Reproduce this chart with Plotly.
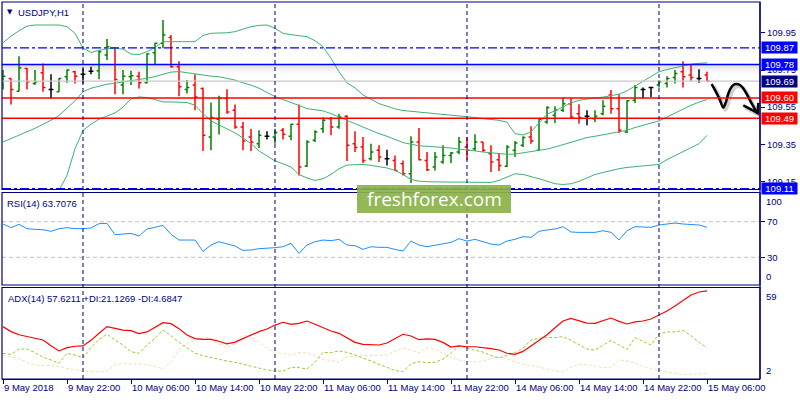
import plotly.graph_objects as go

# ---------------- data ----------------
bar_index = list(range(89))

opens = [109.669,109.705,109.636,109.759,109.678,109.735,109.645,109.633,109.714,109.741,
         109.728,109.744,109.746,109.831,109.867,109.669,109.714,109.717,109.681,109.843,
         109.894,109.926,109.768,109.645,109.669,109.651,109.389,109.485,109.596,109.533,
         109.443,109.389,109.353,109.393,109.389,109.425,109.393,109.458,109.233,109.371,
         109.434,109.488,109.443,109.501,109.353,109.335,109.272,109.317,109.272,109.263,
         109.245,109.191,109.362,109.263,109.227,109.254,109.290,109.308,109.335,109.326,
         109.362,109.299,109.267,109.231,109.317,109.344,109.389,109.317,109.470,109.506,
         109.533,109.569,109.515,109.501,109.488,109.515,109.615,109.542,109.416,109.587,
         109.645,109.656,109.669,109.678,109.710,109.741,109.723,109.705,109.723]
highs = [109.750,109.705,109.825,109.762,109.750,109.786,109.728,109.706,109.753,109.746,
         109.759,109.768,109.858,109.917,109.870,109.750,109.746,109.741,109.840,109.897,
         110.020,109.939,109.798,109.696,109.728,109.656,109.575,109.611,109.647,109.564,
         109.470,109.434,109.425,109.420,109.434,109.438,109.461,109.564,109.371,109.425,
         109.494,109.497,109.515,109.506,109.420,109.389,109.353,109.344,109.321,109.290,
         109.263,109.393,109.438,109.308,109.308,109.344,109.308,109.389,109.389,109.404,
         109.362,109.344,109.299,109.344,109.368,109.393,109.447,109.488,109.555,109.555,
         109.600,109.600,109.566,109.533,109.533,109.587,109.642,109.620,109.587,109.669,
         109.656,109.656,109.696,109.717,109.750,109.798,109.780,109.755,109.741]
lows = [109.645,109.564,109.636,109.645,109.669,109.633,109.596,109.633,109.681,109.678,
        109.678,109.728,109.701,109.804,109.620,109.620,109.669,109.651,109.678,109.777,
        109.867,109.762,109.609,109.624,109.533,109.314,109.317,109.402,109.515,109.434,
        109.317,109.314,109.330,109.375,109.353,109.375,109.371,109.182,109.227,109.362,
        109.411,109.398,109.434,109.260,109.308,109.249,109.263,109.254,109.236,109.204,
        109.182,109.141,109.263,109.206,109.209,109.245,109.249,109.296,109.267,109.314,
        109.308,109.200,109.206,109.227,109.281,109.335,109.353,109.314,109.461,109.465,
        109.524,109.488,109.461,109.452,109.470,109.506,109.515,109.411,109.411,109.573,
        109.596,109.605,109.656,109.656,109.678,109.656,109.692,109.681,109.690]
closes = [109.717,109.645,109.762,109.687,109.687,109.656,109.645,109.705,109.750,109.717,
          109.728,109.744,109.849,109.876,109.699,109.717,109.719,109.681,109.836,109.894,
          109.939,109.768,109.660,109.656,109.605,109.398,109.494,109.596,109.524,109.443,
          109.368,109.362,109.398,109.393,109.413,109.404,109.458,109.227,109.362,109.416,
          109.479,109.443,109.497,109.344,109.332,109.263,109.308,109.281,109.272,109.209,
          109.191,109.362,109.267,109.213,109.281,109.290,109.303,109.362,109.317,109.362,
          109.317,109.254,109.236,109.335,109.357,109.386,109.368,109.485,109.548,109.533,
          109.569,109.497,109.494,109.501,109.501,109.555,109.542,109.425,109.584,109.656,
          109.645,109.656,109.687,109.705,109.732,109.714,109.710,109.705,109.690]

bb_upper = [109.897,109.933,109.962,109.987,109.993,109.993,109.993,109.993,109.984,109.948,
            109.869,109.845,109.856,109.865,109.867,109.863,109.836,109.834,109.849,109.872,
            109.903,109.903,109.903,109.899,109.903,109.937,109.948,109.950,109.951,109.957,
            109.969,109.984,109.991,109.993,109.975,109.948,109.941,109.935,109.930,109.908,
            109.876,109.813,109.741,109.681,109.654,109.616,109.591,109.569,109.555,109.541,
            109.532,109.528,109.524,109.519,109.515,109.512,109.508,109.505,109.497,109.494,
            109.488,109.483,109.479,109.469,109.407,109.400,109.416,109.465,109.512,109.530,
            109.551,109.573,109.587,109.595,109.600,109.604,109.611,109.620,109.638,109.663,
            109.690,109.717,109.741,109.753,109.762,109.773,109.782,109.786,109.789]
bb_middle = [109.362,109.380,109.397,109.415,109.436,109.458,109.479,109.505,109.542,109.584,
             109.633,109.652,109.663,109.674,109.679,109.685,109.690,109.697,109.706,109.715,
             109.728,109.739,109.742,109.735,109.728,109.721,109.717,109.714,109.705,109.696,
             109.681,109.669,109.652,109.629,109.607,109.591,109.577,109.559,109.542,109.537,
             109.530,109.515,109.497,109.479,109.458,109.440,109.422,109.407,109.393,109.375,
             109.359,109.350,109.342,109.339,109.337,109.335,109.330,109.324,109.317,109.314,
             109.308,109.303,109.299,109.296,109.297,109.303,109.308,109.315,109.324,109.335,
             109.348,109.360,109.373,109.386,109.393,109.402,109.409,109.418,109.425,109.440,
             109.452,109.461,109.476,109.497,109.519,109.542,109.560,109.577,109.591]
bb_lower = [108.831,108.840,108.849,108.867,108.903,108.957,109.029,109.101,109.182,109.326,
            109.425,109.458,109.485,109.501,109.519,109.550,109.595,109.605,109.602,109.591,
            109.578,109.578,109.578,109.575,109.560,109.515,109.476,109.454,109.434,109.411,
            109.384,109.353,109.314,109.285,109.260,109.245,109.227,109.187,109.168,109.155,
            109.164,109.187,109.218,109.238,109.241,109.241,109.236,109.231,109.222,109.209,
            109.187,109.160,109.151,109.148,109.146,109.146,109.146,109.146,109.146,109.144,
            109.142,109.144,109.155,109.173,109.191,109.187,109.177,109.164,109.151,109.137,
            109.133,109.137,109.150,109.169,109.187,109.198,109.209,109.218,109.225,109.229,
            109.233,109.234,109.241,109.267,109.288,109.312,109.330,109.353,109.398]

rsi = [67.4,63.3,67.0,62.2,61.4,61.0,59.2,62.2,63.3,62.2,
       62.2,62.9,67.8,68.1,55.4,56.5,56.9,53.9,61.8,63.7,
       65.9,55.8,49.4,49.4,49.4,36.7,43.8,47.5,44.9,42.7,
       37.8,38.2,39.7,40.1,40.8,41.9,45.7,34.4,43.8,47.5,
       49.4,48.7,50.2,43.8,43.1,38.9,41.9,41.2,41.2,38.9,
       37.1,48.3,43.8,41.9,43.8,45.7,46.8,50.9,48.3,50.2,
       47.5,44.9,43.8,48.3,50.2,53.2,52.4,59.2,60.7,61.8,
       64.4,58.4,58.0,58.0,58.0,59.9,58.0,49.4,59.9,64.4,
       63.7,63.7,66.3,67.4,68.5,67.4,67.0,66.3,63.7076]

adx = [34.7,31.5,29.5,28.3,27.2,26.1,22.5,19.1,21.2,22.1,
       22.3,25.9,30.4,34.7,33.6,32.5,32.1,30.2,31.3,34.0,
       37.2,36.6,33.4,29.3,27.0,26.5,26.5,25.3,23.6,24.8,
       27.2,29.3,31.5,33.2,35.7,37.5,36.2,36.8,38.3,36.2,
       34.0,31.9,30.4,27.6,24.6,23.3,23.3,22.9,24.2,26.8,
       29.8,28.7,26.3,26.8,26.5,24.6,21.6,22.3,21.8,21.8,
       21.4,20.6,19.7,17.6,16.9,18.8,22.3,25.9,29.5,34.0,
       38.3,40.0,38.7,37.0,36.8,38.3,40.2,38.1,36.4,37.7,
       38.3,39.6,42.2,44.7,47.9,51.4,55.0,56.9,57.6211]
plus_di = [17.6,16.9,20.3,20.3,18.0,15.2,13.3,11.1,17.6,16.5,
           14.8,21.2,26.5,29.8,26.1,22.9,18.6,17.6,22.9,27.2,
           32.5,28.9,24.6,20.8,17.6,16.1,14.8,13.5,12.6,11.8,
           10.5,9.4,8.1,6.9,6.2,6.2,8.6,8.4,7.5,11.8,
           18.2,18.0,19.1,18.2,16.5,14.8,12.6,10.5,8.4,6.6,
           5.8,10.9,12.2,11.6,11.8,13.9,17.6,22.5,20.8,19.7,
           18.4,16.1,14.6,16.1,18.0,20.8,26.1,27.2,27.8,27.6,
           28.3,25.9,22.9,20.3,19.7,22.7,25.9,22.9,20.1,27.6,
           25.0,22.9,30.0,31.3,31.3,32.3,28.9,24.6,21.1269]
minus_di = [16.5,15.2,14.1,11.8,10.1,9.6,9.9,9.2,7.9,7.1,
            6.2,5.8,5.6,6.2,10.1,11.1,10.7,10.9,10.1,9.2,
            7.5,12.2,19.7,23.8,25.9,27.6,27.0,23.3,21.2,23.8,
            28.9,28.7,24.6,20.8,18.4,17.6,16.5,18.0,18.0,16.1,
            13.7,12.9,11.8,15.4,15.8,16.1,16.1,16.3,16.5,19.1,
            21.0,19.5,18.0,21.2,20.1,17.6,14.8,13.3,12.4,12.0,
            12.6,14.3,15.0,13.9,12.2,10.5,9.6,8.8,7.5,6.6,
            5.4,8.8,10.5,10.3,9.4,8.4,8.8,13.5,12.6,11.4,
            9.2,7.9,6.6,5.4,4.7,3.9,4.1,4.5,4.6847]

tick_positions = [0, 8, 16, 24, 32, 40, 48, 56, 64, 72, 80, 88]
tick_labels = ["9 May 2018", "9 May 22:00", "10 May 06:00", "10 May 14:00",
               "10 May 22:00", "11 May 06:00", "11 May 14:00", "11 May 22:00",
               "14 May 06:00", "14 May 14:00", "14 May 22:00", "15 May 06:00"]
day_separators = [10, 34, 58, 82]
price_ticks = [109.15, 109.35, 109.55, 109.75, 109.95]

level_prices = [109.87, 109.78, 109.69, 109.60, 109.49, 109.11]
level_line_colors = ["#0000FF", "#0000FF", "#C8C8C8", "#FF0000", "#FF0000", "#0000FF"]
level_dashes = ["dashdot", "solid", "solid", "solid", "solid", "dashdot"]
level_widths = [1.3, 1.5, 1.2, 1.5, 1.5, 1.3]
level_label_bg = ["#0000FF", "#0000FF", "#000080", "#FF0000", "#FF0000", "#0000FF"]
rsi_levels = [70, 30]

arrow_x = [88.58, 89.12, 89.62, 90.04, 90.37, 90.67, 91.08, 91.5, 92.04, 92.54, 93.04, 93.58, 94.08, 94.33]
arrow_y = [109.674, 109.632, 109.588, 109.548, 109.578, 109.624, 109.660, 109.674, 109.672, 109.651, 109.615, 109.570, 109.533, 109.519]
arrow_head_x = [92.54, 94.33, 94.41]
arrow_head_y = [109.560, 109.519, 109.573]

# ---------------- styling ----------------
NAVY = "#000080"
FONT = "Liberation Sans"
FS = 9.5
W, H = 800, 400
ML, MR, MT, MB = 2, 40, 2, 21
PW, PH = W - ML - MR, H - MT - MB


def py(px):  # pixel row -> paper fraction
    return (H - MB - px) / PH


def pxx(px):
    return (px - ML) / PW


main_dom = [py(189.5), 1.0]
rsi_dom = [py(285), py(192.5)]
adx_dom = [0.0, py(287.5)]

fig = go.Figure()

# OHLC bars split by direction
groups = {"#008000": [], "#FF0000": [], "#000000": []}
for i in bar_index:
    if closes[i] > opens[i]:
        groups["#008000"].append(i)
    elif closes[i] < opens[i]:
        groups["#FF0000"].append(i)
    else:
        groups["#000000"].append(i)
for color, idx in groups.items():
    fig.add_trace(go.Ohlc(
        x=[bar_index[i] for i in idx],
        open=[opens[i] for i in idx], high=[highs[i] for i in idx],
        low=[lows[i] for i in idx], close=[closes[i] for i in idx],
        increasing=dict(line=dict(color=color, width=1.5)),
        decreasing=dict(line=dict(color=color, width=1.5)),
        tickwidth=0.3, hoverinfo="skip", showlegend=False, xaxis="x", yaxis="y"))

for band in (bb_upper, bb_middle, bb_lower):
    fig.add_trace(go.Scatter(x=bar_index, y=band, mode="lines",
                             line=dict(color="#3CB371", width=1),
                             hoverinfo="skip", showlegend=False, yaxis="y"))

# hand-drawn arrow (with soft shadow)
fig.add_trace(go.Scatter(x=[v + 0.25 for v in arrow_x], y=[v - 0.012 for v in arrow_y], mode="lines",
                         line=dict(color="rgba(0,0,0,0.18)", width=4, shape="spline"),
                         hoverinfo="skip", showlegend=False, yaxis="y"))
fig.add_trace(go.Scatter(x=[v + 0.25 for v in arrow_head_x], y=[v - 0.012 for v in arrow_head_y], mode="lines",
                         line=dict(color="rgba(0,0,0,0.18)", width=4),
                         hoverinfo="skip", showlegend=False, yaxis="y"))
fig.add_trace(go.Scatter(x=arrow_x, y=arrow_y, mode="lines",
                         line=dict(color="#000000", width=2.5, shape="spline"),
                         hoverinfo="skip", showlegend=False, yaxis="y"))
fig.add_trace(go.Scatter(x=arrow_head_x, y=arrow_head_y, mode="lines",
                         line=dict(color="#000000", width=2.5),
                         hoverinfo="skip", showlegend=False, yaxis="y"))

fig.add_trace(go.Scatter(x=bar_index, y=rsi, mode="lines",
                         line=dict(color="#1E90FF", width=1),
                         hoverinfo="skip", showlegend=False, yaxis="y2"))

fig.add_trace(go.Scatter(x=bar_index, y=minus_di, mode="lines",
                         line=dict(color="#F5DEB3", width=1, dash="3px,2px"),
                         hoverinfo="skip", showlegend=False, yaxis="y3"))
fig.add_trace(go.Scatter(x=bar_index, y=plus_di, mode="lines",
                         line=dict(color="#9ACD32", width=1, dash="3px,2px"),
                         hoverinfo="skip", showlegend=False, yaxis="y3"))
fig.add_trace(go.Scatter(x=bar_index, y=adx, mode="lines",
                         line=dict(color="#FF0000", width=1.2),
                         hoverinfo="skip", showlegend=False, yaxis="y3"))

shapes = []
# shadow under the 109.78 line
for k, op in enumerate([0.22, 0.16, 0.10, 0.05]):
    shapes.append(dict(type="rect", xref="paper", x0=0, x1=1, yref="y",
                       y0=level_prices[1] - 0.011 * (k + 1), y1=level_prices[1] - 0.011 * k,
                       fillcolor=f"rgba(120,120,120,{op})", line=dict(width=0), layer="below"))
for p, c, d, w in zip(level_prices, level_line_colors, level_dashes, level_widths):
    shapes.append(dict(type="line", xref="paper", x0=0, x1=1, yref="y", y0=p, y1=p,
                       line=dict(color=c, width=w, dash=d), layer="above"))
for lv in rsi_levels:
    shapes.append(dict(type="line", xref="paper", x0=0, x1=1, yref="y2", y0=lv, y1=lv,
                       line=dict(color="#C0C0C0", width=1, dash="4px,3px"), layer="below"))
for ds in day_separators:
    shapes.append(dict(type="line", xref="x", x0=ds, x1=ds, yref="paper", y0=0, y1=1,
                       line=dict(color=NAVY, width=1, dash="4px,3px"), layer="above"))
for yr in ("y domain", "y2 domain", "y3 domain"):
    shapes.append(dict(type="rect", xref="paper", x0=0, x1=1, yref=yr, y0=0, y1=1,
                       line=dict(color=NAVY, width=1.2), layer="above"))
shapes.append(dict(type="line", xref="paper", x0=1, x1=1, yref="paper", y0=0, y1=1,
                   line=dict(color=NAVY, width=1.2)))
# watermark box
shapes.append(dict(type="rect", xref="paper", yref="paper",
                   x0=pxx(357), x1=pxx(511), y0=py(213), y1=py(185),
                   fillcolor="rgba(138,178,70,0.92)", line=dict(width=0), layer="above"))

annotations = []
for p, bg in zip(level_prices, level_label_bg):
    annotations.append(dict(xref="paper", x=1, xanchor="left", xshift=1, yref="y", y=p,
                            text=f"{p:.2f}", showarrow=False, bgcolor=bg, width=35, height=11,
                            borderpad=0, font=dict(family=FONT, size=FS, color="white")))
annotations += [
    dict(xref="paper", x=0, xanchor="left", xshift=3, yref="paper", y=1, yanchor="top", yshift=-4,
         text="▼", showarrow=False, font=dict(family="DejaVu Sans", size=7, color=NAVY)),
    dict(xref="paper", x=0, xanchor="left", xshift=14, yref="paper", y=1, yanchor="top", yshift=-3,
         text="USDJPY,H1", showarrow=False, font=dict(family=FONT, size=FS, color=NAVY)),
    dict(xref="paper", x=0, xanchor="left", xshift=3, yref="y2 domain", y=1, yanchor="top", yshift=-3,
         text="RSI(14) 63.7076", showarrow=False, font=dict(family=FONT, size=FS, color=NAVY)),
    dict(xref="paper", x=0, xanchor="left", xshift=4, yref="y3 domain", y=1, yanchor="top", yshift=-3,
         text="ADX(14) 57.6211 +DI:21.1269 -DI:4.6847", showarrow=False,
         font=dict(family=FONT, size=FS, color=NAVY)),
    dict(xref="paper", x=1, xanchor="left", xshift=4, yref="y2 domain", y=1, yanchor="top", yshift=-1,
         text="100", showarrow=False, font=dict(family=FONT, size=FS, color=NAVY)),
    dict(xref="paper", x=1, xanchor="left", xshift=4, yref="y2 domain", y=0, yanchor="bottom", yshift=1,
         text="0", showarrow=False, font=dict(family=FONT, size=FS, color=NAVY)),
    dict(xref="paper", x=1, xanchor="left", xshift=4, yref="y3 domain", y=1, yanchor="top", yshift=-1,
         text="59", showarrow=False, font=dict(family=FONT, size=FS, color=NAVY)),
    dict(xref="paper", x=1, xanchor="left", xshift=4, yref="y3 domain", y=0, yanchor="bottom", yshift=1,
         text="2", showarrow=False, font=dict(family=FONT, size=FS, color=NAVY)),
    dict(xref="paper", x=(pxx(357) + pxx(511)) / 2, yref="paper", y=(py(213) + py(185)) / 2,
         text="freshforex.com", showarrow=False,
         font=dict(family="Open Sans", size=19, color="white")),
]

axis_common = dict(showgrid=False, zeroline=False, side="right", anchor="x",
                   ticks="outside", ticklen=4, tickcolor=NAVY, tickwidth=1,
                   tickfont=dict(family=FONT, size=FS, color=NAVY), fixedrange=True)

fig.update_layout(
    width=W, height=H, margin=dict(l=ML, r=MR, t=MT, b=MB),
    paper_bgcolor="white", plot_bgcolor="white", showlegend=False,
    xaxis=dict(range=[-0.125, 94.625], tickvals=tick_positions, ticktext=tick_labels,
               ticks="outside", ticklen=4, tickcolor=NAVY, showline=True, linecolor=NAVY,
               ticklabelposition="outside right", tickangle=0, showgrid=False, zeroline=False,
               tickfont=dict(family=FONT, size=FS, color=NAVY), anchor="y3",
               rangeslider=dict(visible=False), fixedrange=True),
    yaxis=dict(domain=main_dom, range=[109.106, 110.117], tickvals=price_ticks,
               tickformat=".2f", **axis_common),
    yaxis2=dict(domain=rsi_dom, range=[-1.1, 102.8], tickvals=rsi_levels, **axis_common),
    yaxis3=dict(domain=adx_dom, range=[1.1, 59.8], tickvals=[], **axis_common),
    shapes=shapes, annotations=annotations,
)

fig.write_html("out.html", config={"displayModeBar": False},
               post_script="document.body.style.margin='0';document.body.style.overflow='hidden';")
